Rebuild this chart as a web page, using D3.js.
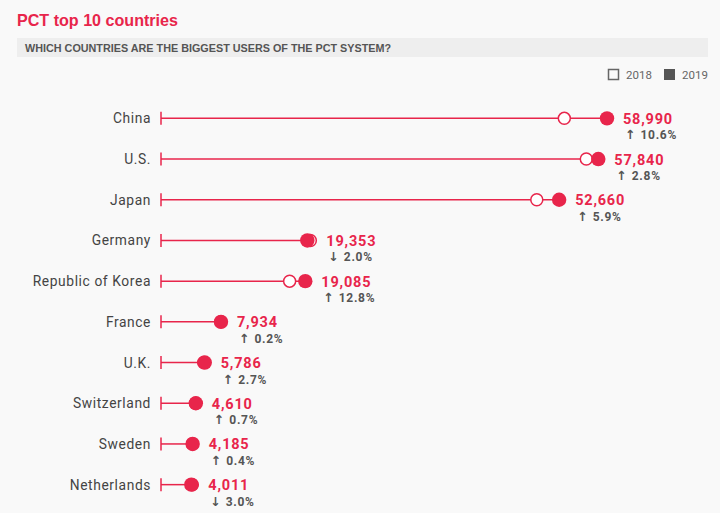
<!DOCTYPE html>
<html><head><meta charset="utf-8">
<script src="https://cdn.jsdelivr.net/npm/d3@7"></script>
<style>
html,body{margin:0;padding:0;background:#f9f9f9;}
svg{display:block;}
</style></head>
<body>
<svg id="chart" width="720" height="513"></svg>
<script>
const countries = ["China","U.S.","Japan","Germany","Republic of Korea","France","U.K.","Switzerland","Sweden","Netherlands"];
const values2019 = [58990,57840,52660,19353,19085,7934,5786,4610,4185,4011];
const values2018 = [53345,56252,49702,19750,17014,7914,5641,4568,4162,4138];
const growth = [10.6,2.8,5.9,-2.0,12.8,0.2,2.7,0.7,0.4,-3.0];
const legendLabels = ["2018","2019"];

const red = "#e8254b";
const svg = d3.select("#chart");
svg.append("rect").attr("width",720).attr("height",513).attr("fill","#f9f9f9");

svg.append("text").attr("x",17).attr("y",26)
  .attr("font-family","Liberation Sans, Arial, sans-serif").attr("font-weight","bold")
  .attr("font-size",16.1).attr("fill",red).text("PCT top 10 countries");
svg.append("rect").attr("x",17).attr("y",38).attr("width",691).attr("height",19).attr("fill","#eeeeee");
svg.append("text").attr("x",25).attr("y",51.5)
  .attr("font-family","Liberation Sans, Arial, sans-serif").attr("font-weight","bold")
  .attr("font-size",10.8).attr("fill","#555").text("WHICH COUNTRIES ARE THE BIGGEST USERS OF THE PCT SYSTEM?");

// legend
const lg = svg.append("g").attr("font-family","Roboto, sans-serif").attr("font-size",11.5).attr("fill","#666");
lg.append("rect").attr("x",608.5).attr("y",69.5).attr("width",10).attr("height",10).attr("fill","none").attr("stroke","#666").attr("stroke-width",1.5);
lg.append("text").attr("x",626).attr("y",79).text(legendLabels[0]);
lg.append("rect").attr("x",664).attr("y",69).attr("width",11).attr("height",11).attr("fill","#555");
lg.append("text").attr("x",682).attr("y",79).text(legendLabels[1]);

const data = countries.map((c,i)=>({c, v19:values2019[i], v18:values2018[i], g:growth[i]}));

const x = d3.scaleLinear().domain([0,70000]).range([161,161+70000*(446/58990)]);
const y = d3.scaleBand().domain(countries).range([98,505]).paddingInner(0).paddingOuter(0);
const cy = d => y(d.c)+y.bandwidth()/2;

const rows = svg.append("g").selectAll("g").data(data).join("g");

rows.append("text").attr("x",151).attr("y",d=>cy(d)+5).attr("text-anchor","end")
  .attr("font-family","Roboto, sans-serif").attr("font-size",13.8).attr("fill","#444")
  .attr("letter-spacing",0.6).text(d=>d.c);

rows.append("line").attr("x1",x(0)).attr("x2",d=>x(d.v19)).attr("y1",cy).attr("y2",cy)
  .attr("stroke",red).attr("stroke-width",1.5);
rows.append("line").attr("x1",x(0)).attr("x2",x(0)).attr("y1",d=>cy(d)-6.5).attr("y2",d=>cy(d)+6.5)
  .attr("stroke",red).attr("stroke-width",1.5);

rows.append("circle").attr("cx",d=>x(d.v18)).attr("cy",cy).attr("r",6)
  .attr("fill","#fff").attr("stroke",red).attr("stroke-width",1.5);
rows.append("circle").attr("cx",d=>x(d.v19)).attr("cy",cy).attr("r",7.2).attr("fill",red);

const fmt = d3.format(",");
const lx = d => Math.max(x(d.v19), x(d.v18)) + 16;
rows.append("text").attr("x",lx).attr("y",d=>cy(d)+5.5)
  .attr("font-family","Roboto, sans-serif").attr("font-weight","bold").attr("font-size",14.5)
  .attr("fill",red).attr("letter-spacing",0.8).text(d=>fmt(d.v19));
const pt = rows.append("text").attr("x",d=>lx(d)+2).attr("y",d=>cy(d)+21)
  .attr("font-weight","bold").attr("fill","#555");
pt.append("tspan").attr("font-family","DejaVu Sans, sans-serif").attr("font-size",12.5).text(d=>d.g>=0?"↑":"↓");
pt.append("tspan").attr("dx",5).attr("font-family","Roboto, sans-serif").attr("font-size",12).attr("letter-spacing",0.7)
  .text(d=>Math.abs(d.g).toFixed(1)+"%");
</script>
</body></html>
